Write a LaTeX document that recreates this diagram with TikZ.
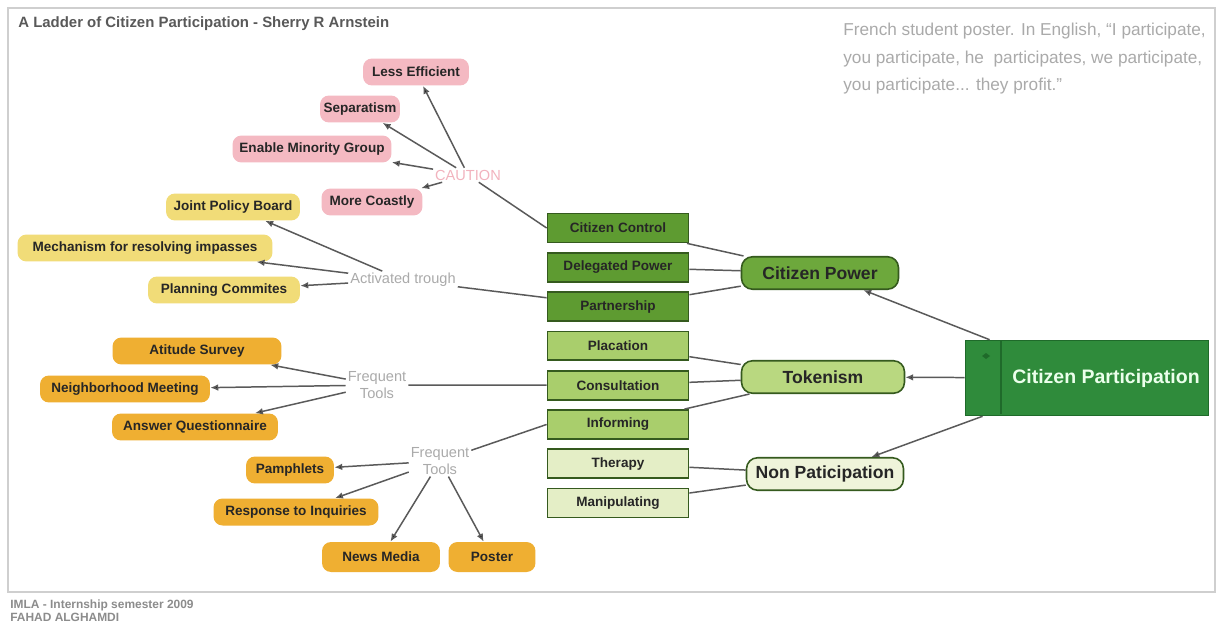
\documentclass[tikz,border=0pt]{standalone}
\usepackage{fontspec}
\setmainfont{Liberation Sans}
\usetikzlibrary{arrows.meta}

\definecolor{pinkfill}{HTML}{F4B9C2}
\definecolor{yellowfill}{HTML}{F1DC78}
\definecolor{orangefill}{HTML}{EFAF32}
\definecolor{rungdark}{HTML}{5E9B31}
\definecolor{rungmid}{HTML}{A9CE6C}
\definecolor{runglight}{HTML}{E4EEC6}
\definecolor{rungline}{HTML}{355A1E}
\definecolor{powerfill}{HTML}{6DA83C}
\definecolor{tokenfill}{HTML}{B9D880}
\definecolor{nonfill}{HTML}{EFF4DA}
\definecolor{cpfill}{HTML}{2F8B3B}
\definecolor{cpline}{HTML}{1F6A2A}
\definecolor{linkgray}{HTML}{5A5A5A}
\definecolor{hintgray}{HTML}{AAAAAA}
\definecolor{cautionpink}{HTML}{F2B3BE}
\definecolor{framegray}{HTML}{CFCFCF}
\definecolor{leaftext}{HTML}{262626}

\begin{document}
\begin{tikzpicture}[x=0.02cm, y=-0.02cm, node distance=0.786cm, >={Latex[length=4.5pt,width=3.8pt]}]

% Define the node styles
\tikzstyle{leaf}=[rounded corners=0.18cm, minimum height=0.54cm, inner sep=0pt, text=leaftext, font=\fontsize{7.7}{9}\selectfont\bfseries]
\tikzstyle{riskbox}=[leaf, fill=pinkfill]
\tikzstyle{boardbox}=[leaf, fill=yellowfill]
\tikzstyle{toolbox}=[leaf, fill=orangefill]
\tikzstyle{rung}=[rectangle, draw=rungline, line width=1pt, minimum width=2.82cm, minimum height=0.58cm, inner sep=0pt, text=leaftext, font=\fontsize{7.7}{9}\selectfont\bfseries]
\tikzstyle{stage}=[rounded corners=0.22cm, draw=rungline, line width=0.9pt, minimum height=0.65cm, inner sep=0pt, text=leaftext, font=\fontsize{10}{12}\selectfont\bfseries]
\tikzstyle{hint}=[inner sep=1pt, align=center, text=hintgray, font=\fontsize{8.3}{9.5}\selectfont]
\tikzstyle{wire}=[draw=linkgray, line width=0.85pt]

\useasboundingbox[fill=white] (0,0) rectangle (1217,628);
\draw[framegray, line width=0.8pt] (8,8) rectangle (1215,592);

% Define the nodes
\node[anchor=west, inner sep=0pt, text=black!65, font=\fontsize{8.5}{10}\selectfont\bfseries] (title) at (18,24) {A Ladder of Citizen Participation - Sherry R Arnstein};
\node[anchor=north west, inner sep=0pt, align=left, text=hintgray, font=\fontsize{9.8}{15.6}\selectfont] (quote) at (843,23)
  {French student poster. In English, ``I participate,\\you participate, he\ \ participates, we participate,\\you participate... they profit.''};
\node[anchor=north west, inner sep=0pt, align=left, text=black!45, font=\fontsize{6.8}{7.4}\selectfont\bfseries] (footer) at (10,599)
  {IMLA - Internship semester 2009\\FAHAD ALGHAMDI};

\node[riskbox, minimum width=2.12cm] (less) at (416,72) {Less Efficient};
\node[riskbox, minimum width=1.6cm] (separ) at (360,109) {Separatism};
\node[riskbox, minimum width=3.18cm] (minor) at (312,149) {Enable Minority Group};
\node[riskbox, minimum width=2.02cm] (costly) at (372,202) {More Coastly};
\node[hint, text=cautionpink] (caution) at (468,175) {CAUTION};

\node[boardbox, minimum width=2.68cm] (joint) at (233,207) {Joint Policy Board};
\node[boardbox, minimum width=5.1cm] (mech) at (145,248) {Mechanism for resolving impasses};
\node[boardbox, minimum width=3.04cm] (plan) at (224,290) {Planning Commites};
\node[hint] (act) at (403,280) {Activated trough};

\node[toolbox, minimum width=3.38cm] (survey) at (197,351) {Atitude Survey};
\node[toolbox, minimum width=3.4cm] (meeting) at (125,389) {Neighborhood Meeting};
\node[toolbox, minimum width=3.32cm] (quest) at (195,427) {Answer Questionnaire};
\node[hint] (freqA) at (377,385) {Frequent\\Tools};

\node[toolbox, minimum width=1.76cm] (pamph) at (290,470) {Pamphlets};
\node[toolbox, minimum width=3.3cm] (inquiry) at (296,512) {Response to Inquiries};
\node[toolbox, minimum width=2.36cm, minimum height=0.6cm] (news) at (381,557) {News Media};
\node[toolbox, minimum width=1.74cm, minimum height=0.6cm] (poster) at (492,557) {Poster};
\node[hint] (freqB) at (440,461) {Frequent\\Tools};

\node[rung, fill=rungdark] (ctrl) at (618,228) {Citizen Control};
\node[rung, fill=rungdark, below of=ctrl] (deleg) {Delegated Power};
\node[rung, fill=rungdark, below of=deleg] (partner) {Partnership};
\node[rung, fill=rungmid, below of=partner] (placat) {Placation};
\node[rung, fill=rungmid, below of=placat] (consult) {Consultation};
\node[rung, fill=rungmid, below of=consult] (inform) {Informing};
\node[rung, fill=runglight, below of=inform] (therapy) {Therapy};
\node[rung, fill=runglight, below of=therapy] (manip) {Manipulating};

\node[stage, fill=powerfill, minimum width=3.14cm] (power) at (820,273) {Citizen Power};
\node[stage, fill=tokenfill, minimum width=3.26cm] (token) at (823,377) {Tokenism};
\node[stage, fill=nonfill, minimum width=3.14cm] (non) at (825,474) {Non Paticipation};

\node[rectangle, draw=cpline, fill=cpfill, line width=0.9pt, minimum width=4.86cm, minimum height=1.5cm, inner sep=0pt, text=green!8, font=\fontsize{11.1}{13}\selectfont\bfseries] (cp) at (1087,378) {\hspace{0.76cm}Citizen Participation};
\draw[cpline, line width=0.6pt] (1001,341) -- (1001,414);
\fill[cpline] (982,356) -- (986,353) -- (990,356) -- (986,359) -- cycle;

% Add the edges
\path[->, wire] (caution) edge (less)
          (caution) edge (separ)
          (caution) edge (minor)
          (caution) edge (costly)
          (act) edge (joint)
          (act) edge (mech)
          (act) edge (plan)
          (freqA) edge (survey)
          (freqA) edge (meeting)
          (freqA) edge (quest)
          (freqB) edge (pamph)
          (freqB) edge (inquiry)
          (freqB) edge (news)
          (freqB) edge (poster)
          (cp) edge (power)
          (cp) edge (token)
          (cp) edge (non);

\path[wire] (caution) edge (ctrl.west)
          (act) edge (partner)
          (freqA) edge (consult.west)
          (freqB) edge (inform.west)
          (power) edge (ctrl)
          (power) edge (deleg)
          (power) edge (partner)
          (token) edge (placat)
          (token) edge (consult)
          (token) edge (inform)
          (non) edge (therapy)
          (non) edge (manip);

\end{tikzpicture}
\end{document}
